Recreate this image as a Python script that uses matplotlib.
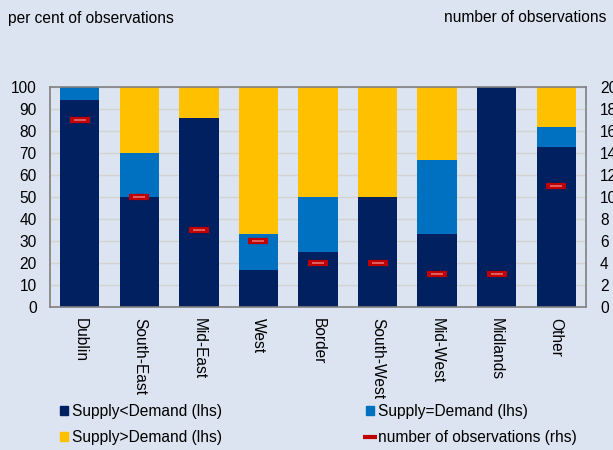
import numpy as np
import matplotlib
matplotlib.use('Agg')
import matplotlib.pyplot as plt
from matplotlib.patches import Patch
from matplotlib.lines import Line2D

plt.rcParams['font.family'] = ['Liberation Sans', 'DejaVu Sans']
plt.rcParams['font.size'] = 11.2

# data
regions = ['Dublin', 'South-East', 'Mid-East', 'West', 'Border',
           'South-West', 'Mid-West', 'Midlands', 'Other']
supply_lt = [94.1, 50.0, 85.7, 16.7, 25.0, 50.0, 33.3, 100.0, 72.7]
supply_eq = [5.9, 20.0, 0.0, 16.7, 25.0, 0.0, 33.3, 0.0, 9.1]
supply_gt = [0.0, 30.0, 14.3, 66.7, 50.0, 50.0, 33.3, 0.0, 18.2]
n_obs = [17, 10, 7, 6, 4, 4, 3, 3, 11]

bg = '#DBE4F0'
navy = '#002060'
blue = '#0070C0'
yellow = '#FFC000'
red = '#C00000'

fig = plt.figure(figsize=(6.13, 4.5), dpi=100, facecolor=bg)
ax = fig.add_axes([50/613, 1-307/450, 536/613, 220/450], facecolor=bg)

x = np.arange(len(regions))
lt = np.array(supply_lt)
eq = np.array(supply_eq)
gt = np.array(supply_gt)
w = 0.66
ax.bar(x, lt, w, color=navy, zorder=2)
ax.bar(x, eq, w, bottom=lt, color=blue, zorder=2)
ax.bar(x, gt, w, bottom=lt+eq, color=yellow, zorder=2)

ax.set_xlim(-0.5, len(regions)-0.5)
ax.set_ylim(0, 100)
ax.set_yticks(np.arange(0, 101, 10))
ax.yaxis.grid(True, color='#D3D3D3', lw=1, zorder=0)
ax.set_xticks(x)
ax.set_xticklabels(regions, rotation=-90, va='top', ha='center')
ax.tick_params(length=0, pad=9.5)
ax.tick_params(axis='x', pad=8)
for s in ax.spines.values():
    s.set_color('#808080')
    s.set_linewidth(1.2)

ax2 = ax.twinx()
ax2.set_ylim(0, 20)
ax2.set_yticks(np.arange(0, 21, 2))
ax2.tick_params(length=0, pad=10)
ax2.plot(x, n_obs, ls='none', marker='_', ms=14, mew=4.5, color=red, zorder=5)
ax2.plot(x, n_obs, ls='none', marker='_', ms=9, mew=1.2, color='#E87070', zorder=6)
for s in ax2.spines.values():
    s.set_visible(False)

fig.text(8/613, 1-18/450, 'per cent of observations', va='center', ha='left')
fig.text(444/613, 1-18/450, 'number of observations', va='center', ha='left')

h1 = [Patch(color=navy, label='Supply<Demand (lhs)'),
      Patch(color=yellow, label='Supply>Demand (lhs)')]
h2 = [Patch(color=blue, label='Supply=Demand (lhs)'),
      Line2D([], [], ls='none', marker='_', ms=10, mew=3, color=red,
             label='number of observations (rhs)')]
kw = dict(frameon=False, handlelength=0.5, handleheight=0.5, handletextpad=0.3,
          labelspacing=0.7, loc='upper left', borderaxespad=0, borderpad=0)
fig.legend(handles=h1, bbox_to_anchor=(60/613, 1-404/450), **kw)
fig.legend(handles=h2, bbox_to_anchor=(366/613, 1-404/450), **kw)

fig.savefig('out.png', dpi=100, facecolor=bg)
